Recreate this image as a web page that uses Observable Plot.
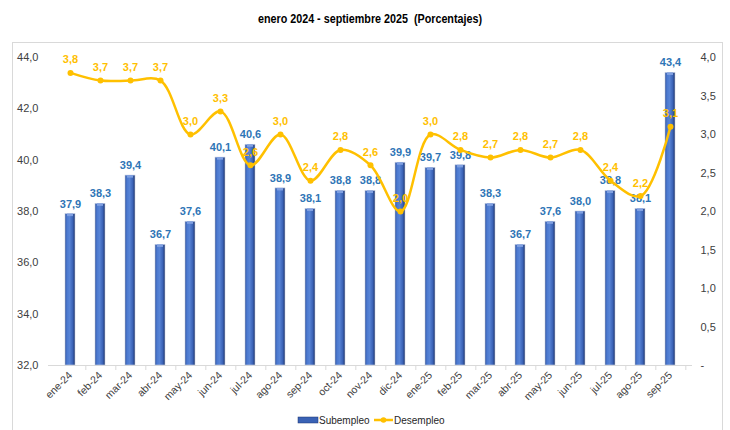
<!DOCTYPE html>
<html><head><meta charset="utf-8">
<script src="https://cdn.jsdelivr.net/npm/d3@7"></script>
<script src="https://cdn.jsdelivr.net/npm/@observablehq/plot@0.6"></script>
<style>
body{margin:0;background:#fff;width:730px;height:430px;overflow:hidden;position:relative;font-family:"Liberation Sans",Arial,sans-serif}
#frame{position:absolute;left:12px;top:42px;width:711px;height:400px;border:1px solid #d9d9d9;box-sizing:border-box}
#sub{position:absolute;top:12px;left:0;width:740px;text-align:center;font-weight:bold;font-size:12.5px;font-family:"Liberation Sans",Arial,sans-serif;color:#000;transform:scaleX(0.86);transform-origin:370px 0}
#chart{position:absolute;left:0;top:42px}
#legend{position:absolute;top:412px;left:0;width:730px;height:18px;font-size:10px;color:#262626}
#legend span{position:absolute;top:3px}
</style></head>
<body>
<div id="frame"></div>
<div id="sub">enero 2024 - septiembre 2025&nbsp; (Porcentajes)</div>
<div id="chart"></div>
<div id="legend">
  <svg width="730" height="18" style="position:absolute;left:0;top:0">
    <rect x="298" y="5" width="20" height="6" fill="#3a62b5" stroke="#1f3570" stroke-width="0.5"></rect>
    <line x1="374" y1="8" x2="393" y2="8" stroke="#FFC000" stroke-width="2.5"></line>
    <circle cx="383.5" cy="8" r="2.8" fill="#FFC000"></circle>
  </svg>
  <span style="left:319px">Subempleo</span>
  <span style="left:394px">Desempleo</span>
</div>
<script>
const months = ["ene-24","feb-24","mar-24","abr-24","may-24","jun-24","jul-24","ago-24","sep-24","oct-24","nov-24","dic-24","ene-25","feb-25","mar-25","abr-25","may-25","jun-25","jul-25","ago-25","sep-25"];
const subempleo = [37.9,38.3,39.4,36.7,37.6,40.1,40.6,38.9,38.1,38.8,38.8,39.9,39.7,39.8,38.3,36.7,37.6,38.0,38.8,38.1,43.4];
const desempleo = [3.8,3.7,3.7,3.7,3.0,3.3,2.6,3.0,2.4,2.8,2.6,2.0,3.0,2.8,2.7,2.8,2.7,2.8,2.4,2.2,3.1];
const leftTicks = [32,34,36,38,40,42,44];
const rightTicks = [0,0.5,1,1.5,2,2.5,3,3.5,4];

const fmt = v => v.toFixed(1).replace(".", ",");
const toLeft = v => 32 + v * 3; // right axis 0–4 mapped onto left axis 32–44
const data = months.map((m, i) => ({m, s: subempleo[i], d: desempleo[i]}));

const W = 730, ML = 48, MR = 38;
const bw = (W - ML - MR) / months.length;
const lbl = '"Liberation Sans",Arial,sans-serif';

const svg = Plot.plot({
  width: W, height: 370,
  marginLeft: ML, marginRight: MR, marginTop: 15, marginBottom: 47,
  style: {fontFamily: lbl, background: "transparent"},
  x: {domain: months, padding: 0, axis: null},
  y: {domain: [32, 44], axis: null},
  marks: [
    Plot.axisY(leftTicks, {anchor: "left", tickSize: 0, tickPadding: 10, tickFormat: fmt, fontSize: 11, fill: "#404040", label: null}),
    Plot.axisY(rightTicks.map(toLeft), {anchor: "right", tickSize: 0, tickPadding: 8, tickFormat: v => (v === 32 ? "-" : fmt((v - 32) / 3)), fontSize: 11, fill: "#404040", label: null}),
    Plot.axisX(months, {tickSize: 0, tickPadding: 8, tickRotate: -45, fontSize: 10.5, fill: "#404040", label: null}),
    Plot.ruleY([32], {stroke: "#d9d9d9"}),
    Plot.ruleX(months, {x: d => d, dx: bw / 2, y1: 32, y2: 32, insetBottom: -5, stroke: "#d9d9d9"}),
    Plot.barY(data, {x: "m", y1: 32, y2: "s", fill: "url(#cyl)", insetLeft: 10, insetRight: 10, stroke: "#c8cfe0", strokeWidth: 0.6}),
    Plot.barY(data, {x: "m", y1: "s", y2: d => d.s - 0.1, fill: "#7f9fe0", insetLeft: 12, insetRight: 12}),
    Plot.text(data, {x: "m", y: "s", text: d => fmt(d.s), dy: -10, fill: "#2E75B6", fontWeight: "bold", fontSize: 11, fontFamily: lbl}),
    Plot.line(data, {x: "m", y: d => toLeft(d.d), curve: "catmull-rom", stroke: "#FFC000", strokeWidth: 2.5}),
    Plot.dot(data, {x: "m", y: d => toLeft(d.d), r: 3, fill: "#FFC000", stroke: "none"}),
    Plot.text(data, {x: "m", y: d => toLeft(d.d), text: d => fmt(d.d), dy: -13, fill: "#FFC000", fontWeight: "bold", fontSize: 11, fontFamily: lbl})
  ]
});

const defs = d3.select(svg).insert("defs", ":first-child");
const g = defs.append("linearGradient").attr("id", "cyl").attr("x1", "0").attr("x2", "1").attr("y1", "0").attr("y2", "0");
[["0%", "#2a4a94"], ["18%", "#4a78cf"], ["45%", "#5884d6"], ["78%", "#3a62b5"], ["100%", "#1c3166"]]
  .forEach(([o, c]) => g.append("stop").attr("offset", o).attr("stop-color", c));

document.getElementById("chart").appendChild(svg);
</script>
</body></html>
